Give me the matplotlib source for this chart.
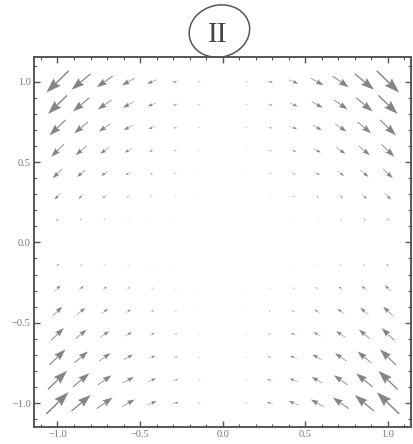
import matplotlib
matplotlib.use("Agg")
import matplotlib.pyplot as plt
import numpy as np
from matplotlib.patches import Ellipse
from matplotlib.ticker import MultipleLocator

# grid of sample points (15 x 15 on [-1, 1])
grid_x = np.linspace(-1.0, 1.0, 15)
grid_y = np.linspace(-1.0, 1.0, 15)
tick_values = [-1.0, -0.5, 0.0, 0.5, 1.0]
tick_labels = ["\u22121.0", "\u22120.5", "0.0", "0.5", "1.0"]
title_text = "II"

X, Y = np.meshgrid(grid_x, grid_y)
U = X * Y
V = -X * X * Y

fig = plt.figure(figsize=(4.14, 4.44), dpi=100)
ax = fig.add_axes([0.081, 0.038, 0.912, 0.834])

ax.quiver(X, Y, U, V, pivot="middle", color="#858585",
          angles="xy", scale_units="xy", scale=7.4,
          units="dots", width=1.45, headwidth=7.0, headlength=10.4,
          headaxislength=9.2, minshaft=1.9, minlength=0)

ax.set_xlim(-1.145, 1.14)
ax.set_ylim(-1.15, 1.155)

for s in ax.spines.values():
    s.set_color("#555555")
    s.set_linewidth(1.4)

ax.set_xticks(tick_values)
ax.set_xticklabels(tick_labels)
ax.set_yticks(tick_values)
ax.set_yticklabels(tick_labels)
ax.xaxis.set_minor_locator(MultipleLocator(0.1))
ax.yaxis.set_minor_locator(MultipleLocator(0.1))
ax.tick_params(which="both", direction="in", top=True, right=True,
               colors="#555555", labelcolor="#777777",
               labelsize=7.5, pad=2)
ax.tick_params(which="major", length=4, width=1)
ax.tick_params(which="minor", length=2.5, width=0.8)
for lab in ax.get_xticklabels() + ax.get_yticklabels():
    lab.set_family("Liberation Serif")

# circled roman numeral above the frame
fig.text(0.525, 0.922, title_text, ha="center", va="center",
         fontsize=21, family="Liberation Serif", color="#444444")
circ = Ellipse((0.530, 0.93), 0.147, 0.117, transform=fig.transFigure,
               fill=False, edgecolor="#555555", linewidth=1.1, angle=10)
fig.patches.append(circ)

plt.savefig("out.png", dpi=100)
plt.close()
